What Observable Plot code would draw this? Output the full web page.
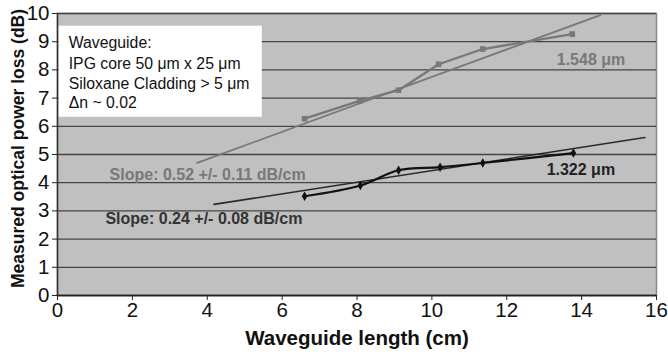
<!DOCTYPE html>
<html><head><meta charset="utf-8">
<script src="https://cdn.jsdelivr.net/npm/d3@7"></script>
<script src="https://cdn.jsdelivr.net/npm/@observablehq/plot@0.6"></script>
<style>
body{margin:0;background:#fff}
#chart svg{font-family:"Liberation Sans",Arial,sans-serif}
</style>
</head><body><div id="chart"></div>
<script>
const len1548 = [6.6, 8.07, 9.11, 10.18, 11.36, 13.75];
const loss1548 = [6.27, 6.90, 7.28, 8.20, 8.74, 9.27];
const len1322 = [6.6, 8.09, 9.11, 10.22, 11.36, 13.78];
const loss1322 = [3.52, 3.90, 4.44, 4.55, 4.70, 5.05];
// Linear fit lines (endpoints)
const fitLen1548 = [3.73, 14.5];
const fitLoss1548 = [4.70, 9.94];
const fitLen1322 = [4.18, 15.69];
const fitLoss1322 = [3.23, 5.60];
// Axis ticks
const xTicks = [0, 2, 4, 6, 8, 10, 12, 14, 16];
const yTicks = [0, 1, 2, 3, 4, 5, 6, 7, 8, 9, 10];
// Text
const boxLines = ["Waveguide:", "IPG core 50 μm x 25 μm", "Siloxane Cladding > 5 μm", "Δn ~ 0.02"];
const boxLineY = [8.95, 8.2, 7.49, 6.82];
const xTitle = "Waveguide length (cm)";
const yTitle = "Measured optical power loss (dB)";

const s1548 = len1548.map((x, i) => ({x, y: loss1548[i]}));
const s1322 = len1322.map((x, i) => ({x, y: loss1322[i]}));
const f1548 = fitLen1548.map((x, i) => ({x, y: fitLoss1548[i]}));
const f1322 = fitLen1322.map((x, i) => ({x, y: fitLoss1322[i]}));
const box = boxLines.map((t, i) => ({t, y: boxLineY[i]}));

const gray = "#787878";
const dark = "#111";

const chart = Plot.plot({
  width: 668, height: 356,
  marginLeft: 57, marginRight: 12, marginTop: 13, marginBottom: 61,
  style: {fontSize: "20px", fontFamily: "Liberation Sans, Arial, sans-serif", background: "#fff"},
  x: {domain: [0, 16]},
  y: {domain: [0, 10]},
  marks: [
    Plot.frame({fill: "#c0c0c0", stroke: "#8a8a8a", strokeWidth: 1.5}),
    Plot.ruleY(yTicks, {stroke: "#444", strokeWidth: 1.3}),
    Plot.rect([0], {x1: 0.04, x2: 5.47, y1: 6.32, y2: 9.55, fill: "#fff"}),
    Plot.text(box, {x: 0.3, y: "y", text: "t", textAnchor: "start", fontSize: 15.8, fill: "#111"}),
    Plot.line(f1548, {x: "x", y: "y", stroke: gray, strokeWidth: 1.8}),
    Plot.line(f1322, {x: "x", y: "y", stroke: "#2a2a2a", strokeWidth: 1.6}),
    Plot.line(s1548, {x: "x", y: "y", stroke: gray, strokeWidth: 2.3}),
    Plot.dot(s1548, {x: "x", y: "y", symbol: "square", fill: gray, r: 3.2}),
    Plot.line(s1322, {x: "x", y: "y", stroke: dark, strokeWidth: 2.2, curve: "catmull-rom"}),
    Plot.dot(s1322, {x: "x", y: "y", symbol: "diamond", fill: dark, r: 2.9}),
    Plot.text(["1.548 μm"], {x: 14.25, y: 8.34, fontWeight: "bold", fontSize: 16, fill: gray}),
    Plot.text(["1.322 μm"], {x: 13.98, y: 4.44, fontWeight: "bold", fontSize: 16, fill: "#222"}),
    Plot.text(["Slope: 0.52 +/- 0.11 dB/cm"], {x: 4.01, y: 4.26, fontWeight: "bold", fontSize: 16, fill: gray}),
    Plot.text(["Slope: 0.24 +/- 0.08 dB/cm"], {x: 3.91, y: 2.70, fontWeight: "bold", fontSize: 16, fill: "#333"}),
    Plot.ruleX([0], {stroke: "#333", strokeWidth: 1.5}),
    Plot.ruleY([0], {stroke: "#222", strokeWidth: 1.5}),
    Plot.axisX({ticks: xTicks, tickSize: 5, tickPadding: 2, label: null, stroke: "#222", fill: "#111", fontSize: 20.5}),
    Plot.axisY({ticks: yTicks, tickSize: 5, tickPadding: 3, label: null, stroke: "#222", fill: "#111", fontSize: 20.5}),
    Plot.text([xTitle], {frameAnchor: "bottom", dy: 49, fontWeight: "bold", fontSize: 20.5, fill: "#111"}),
    Plot.text([yTitle], {frameAnchor: "left", textAnchor: "middle", rotate: -90, dx: -39, dy: -6, fontWeight: "bold", fontSize: 17.5, fill: "#111"})
  ]
});
document.getElementById("chart").append(chart);
</script>
</body></html>
